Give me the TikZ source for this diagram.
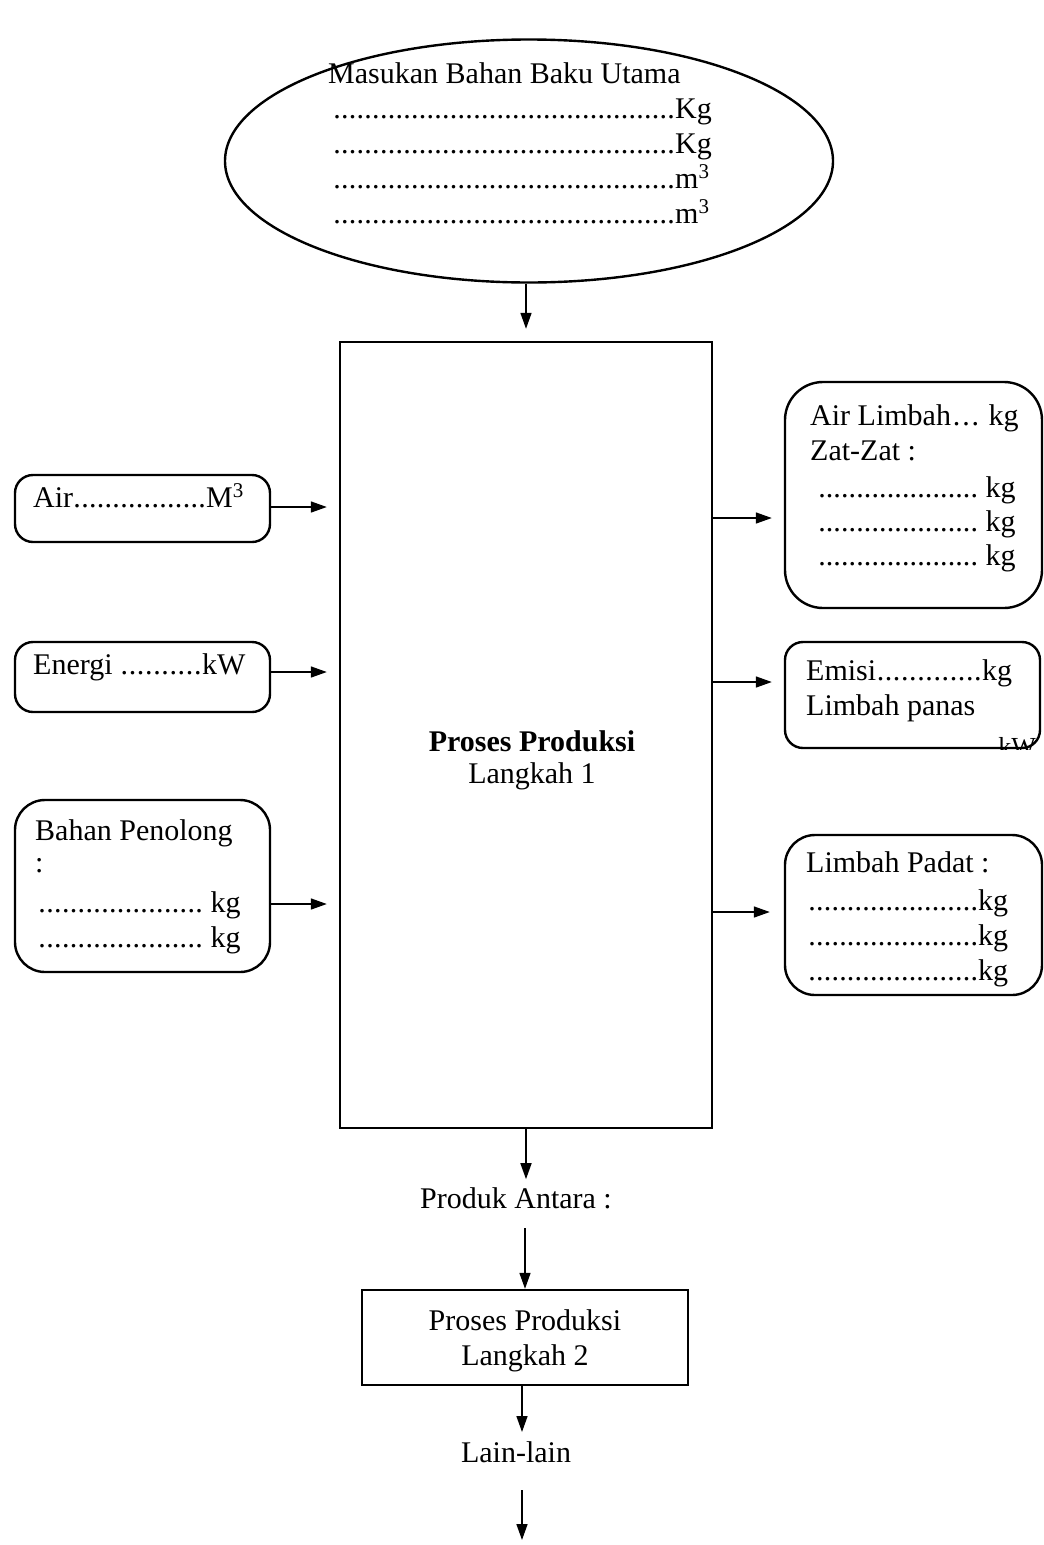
\documentclass[tikz,border=0pt]{standalone}
\usepackage{fontspec}
\setmainfont{Liberation Serif}
\usetikzlibrary{shapes.geometric,arrows.meta}
\newcommand\dotrow[1]{\hbox to #1{\xleaders\hbox to 7.6pt{\hss.\hss}\hfill}}
\begin{document}
\begin{tikzpicture}[x=1pt,y=-1pt,
  every node/.style={font=\fontsize{30}{35}\selectfont},
  txt/.style={anchor=base west, inner sep=0pt},
  ctxt/.style={anchor=base, inner sep=0pt},
  box/.style={draw, line width=2.4pt, rounded corners=#1, inner sep=0pt},
  sqbox/.style={draw, line width=2.4pt, inner sep=0pt},
  arr/.style={line width=1.6pt, -{Triangle[length=16pt,width=11pt]}}
]
\useasboundingbox (0,0) rectangle (1044,1545);

% ellipse
\node[draw, ellipse, line width=2.4pt, minimum width=608, minimum height=243, inner sep=0pt] (ell) at (529,161) {};
\node[txt] (e0) at (328,83) {Masukan Bahan Baku Utama};
\node[txt] (e1) at (333,118) {\dotrow{342pt}Kg};
\node[txt] (e2) at (333,153) {\dotrow{342pt}Kg};
\node[txt] (e3) at (333,188) {\dotrow{342pt}m\textsuperscript{3}};
\node[txt] (e4) at (333,223) {\dotrow{342pt}m\textsuperscript{3}};

% main process box
\node[sqbox, minimum width=372, minimum height=786] (p1) at (526,735) {};
\node[ctxt] (p1a) at (532,751) {\textbf{Proses Produksi}};
\node[ctxt] (p1b) at (532,783) {Langkah 1};

\draw[arr, shorten >=12pt] (p1.north |- ell.south) -- (p1.north);

% left boxes
\node[box=18pt, minimum width=255, minimum height=67] (air) at (142.5,508.5) {};
\node[txt] at (33,507) {Air\dotrow{133pt}M\textsuperscript{3}};
\node[box=18pt, minimum width=255, minimum height=70] (en) at (142.5,677) {};
\node[txt] at (33,674) {Energi \dotrow{82pt}kW};
\node[box=30pt, minimum width=255, minimum height=172] (bp) at (142.5,886) {};
\node[txt] at (35,840) {Bahan Penolong};
\node[txt] at (35,872) {:};
\node[txt] at (38,912) {\dotrow{165pt} kg};
\node[txt] at (38,947) {\dotrow{165pt} kg};

\coordinate (a1) at (270,507);
\coordinate (a2) at (270,672);
\coordinate (a3) at (270,904);
\draw[arr, shorten >=12pt] (a1) -- (a1 -| p1.west);
\draw[arr, shorten >=12pt] (a2) -- (a2 -| p1.west);
\draw[arr, shorten >=12pt] (a3) -- (a3 -| p1.west);

% right boxes
\node[box=38pt, minimum width=257, minimum height=226] (al) at (913.5,495) {};
\node[txt] at (810,425) {Air Limbah\dotrow{30pt} kg};
\node[txt] at (810,460) {Zat-Zat :};
\node[txt] at (818,497) {\dotrow{160pt} kg};
\node[txt] at (818,531) {\dotrow{160pt} kg};
\node[txt] at (818,565) {\dotrow{160pt} kg};

\node[box=18pt, minimum width=255, minimum height=106] (em) at (912.5,695) {};
\node[txt] at (806,680) {Emisi\dotrow{106pt}kg};
\node[txt] at (806,715) {Limbah panas};
\begin{scope}
\clip (em.south west) rectangle (em.north east);
\node[anchor=base east, inner sep=0pt, font=\fontsize{26}{26}\selectfont] at (1036,755) {kW};
\end{scope}

\node[box=30pt, minimum width=257, minimum height=160] (lp) at (913.5,915) {};
\node[txt] at (806,872) {Limbah Padat :};
\node[txt] at (808,910) {\dotrow{170pt}kg};
\node[txt] at (808,945) {\dotrow{170pt}kg};
\node[txt] at (808,980) {\dotrow{170pt}kg};

\coordinate (b1) at (712,518);
\coordinate (b2) at (712,682);
\coordinate (b3) at (712,912);
\draw[arr, shorten >=12pt] (b1) -- (b1 -| al.west);
\draw[arr, shorten >=12pt] (b2) -- (b2 -| em.west);
\draw[arr, shorten >=14pt] (b3) -- (b3 -| lp.west);

% bottom chain
\node[ctxt] (pa) at (516,1208) {Produk Antara :};
\node[sqbox, minimum width=326, minimum height=95] (p2) at (525,1337.5) {};
\node[ctxt] at (525,1330) {Proses Produksi};
\node[ctxt] at (525,1365) {Langkah 2};
\node[ctxt] (ll) at (516,1462) {Lain-lain};
\coordinate (end) at (522,1540);
\coordinate (pa2) at (525,1228);
\coordinate (ll2) at (522,1490);

\draw[arr] (p1.south) -- ++(0,50);
\draw[arr] (pa2) -- (pa2 |- p2.north);
\draw[arr] (p2.south -| ll2) -- (522,1432);
\draw[arr] (ll2) -- (end);
\end{tikzpicture}
\end{document}
